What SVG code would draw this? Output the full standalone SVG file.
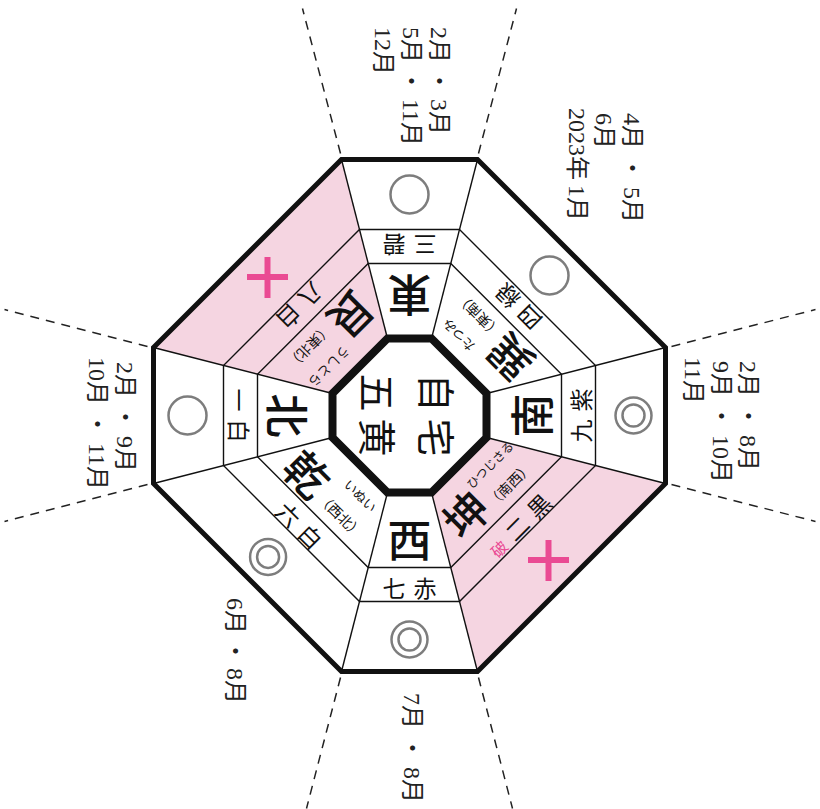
<svg xmlns="http://www.w3.org/2000/svg" width="820" height="809" viewBox="0 0 820 809">
<style>
.thin{fill:none;stroke:#111;stroke-width:1.4}
.outer{fill:none;stroke:#111;stroke-width:5;stroke-linejoin:miter}
.inner{fill:#fff;stroke:#111;stroke-width:8;stroke-linejoin:miter}
.pink{fill:#f5d5e1}
.dash{fill:none;stroke:#222;stroke-width:1.5;stroke-dasharray:9 7}
.dir{font-family:"Noto Sans CJK JP",sans-serif;font-size:44px;font-weight:500;fill:#111;text-anchor:middle;dominant-baseline:central}
.star{font-family:"Noto Sans CJK JP",sans-serif;font-size:23px;fill:#111;text-anchor:middle;dominant-baseline:central}
.yomi{font-family:"Noto Sans CJK JP",sans-serif;font-size:13px;fill:#111;text-anchor:middle;dominant-baseline:central}
.par{font-family:"Noto Sans CJK JP",sans-serif;font-size:14px;fill:#111;text-anchor:middle;dominant-baseline:central}
.ctr{font-family:"Noto Sans CJK JP",sans-serif;font-size:38px;fill:#111;text-anchor:middle;dominant-baseline:central}
.mon{font-family:"Liberation Serif","Noto Sans CJK JP",serif;font-size:24px;fill:#222;dominant-baseline:central}
.sym{fill:none;stroke:#7d7d7d;stroke-width:2.5}
.cross{stroke:#ea4a93;stroke-width:6}
.ha{font-family:"Noto Sans CJK JP",sans-serif;font-size:16px;fill:#ea4a93;text-anchor:middle;dominant-baseline:central}
</style>

<g id="chart" transform="translate(409.5,415.5)">
  <polygon class="pink" points="-77,-22 -256,-68 -68,-256 -22,-77"/>
  <polygon class="pink" points="77,22 256,68 68,256 22,77"/>
  <g id="connectors">
    <line class="thin" x1="22" y1="-77" x2="68" y2="-256"/>
    <line class="thin" x1="77" y1="-22" x2="256" y2="-68"/>
    <line class="thin" x1="77" y1="22" x2="256" y2="68"/>
    <line class="thin" x1="22" y1="77" x2="68" y2="256"/>
    <line class="thin" x1="-22" y1="77" x2="-68" y2="256"/>
    <line class="thin" x1="-77" y1="22" x2="-256" y2="68"/>
    <line class="thin" x1="-77" y1="-22" x2="-256" y2="-68"/>
    <line class="thin" x1="-22" y1="-77" x2="-68" y2="-256"/>
    <polygon class="thin" points="41.3,-152 152,-41.3 152,41.3 41.3,152 -41.3,152 -152,41.3 -152,-41.3 -41.3,-152"/>
    <polygon class="thin" points="50,-186 186,-50 186,50 50,186 -50,186 -186,50 -186,-50 -50,-186"/>
    <line class="dash" x1="-69" y1="-262" x2="-107" y2="-407"/>
    <line class="dash" x1="69" y1="-262" x2="107" y2="-407"/>
    <line class="dash" x1="262" y1="-69" x2="406" y2="-106"/>
    <line class="dash" x1="262" y1="69" x2="406" y2="106"/>
    <line class="dash" x1="69" y1="262" x2="103" y2="393"/>
    <line class="dash" x1="-69" y1="262" x2="-103" y2="393"/>
    <line class="dash" x1="-262" y1="69" x2="-405" y2="106"/>
    <line class="dash" x1="-262" y1="-69" x2="-405" y2="-106"/>
  </g>
  <polygon class="outer" points="68,-256 256,-68 256,68 68,256 -68,256 -256,68 -256,-68 -68,-256"/>
  <g id="center">
    <polygon class="inner" points="22,-77 77,-22 77,22 22,77 -22,77 -77,22 -77,-22 -22,-77"/>
    <g transform="rotate(90)">
      <text class="ctr" x="-23" y="-29">自</text>
      <text class="ctr" x="22" y="-29">宅</text>
      <text class="ctr" x="-23" y="30">五</text>
      <text class="ctr" x="22" y="30">黄</text>
    </g>
  </g>
</g>

<g id="east" transform="translate(409.5,415.5) rotate(180)">
  <text class="dir" x="0" y="119">東</text>
  <text class="star" x="0" y="170">三<tspan dx="8">碧</tspan></text>
  <circle class="sym" cx="0" cy="221" r="19"/>
</g>
<g id="south" transform="translate(409.5,415.5) rotate(-90)">
  <text class="dir" x="0" y="120">南</text>
  <text class="star" x="0" y="170">九<tspan dx="8">紫</tspan></text>
  <circle class="sym" cx="0" cy="224" r="18"/>
  <circle class="sym" cx="0" cy="224" r="11"/>
</g>
<g id="west" transform="translate(409.5,415.5)">
  <text class="dir" x="0" y="122">西</text>
  <text class="star" x="0" y="171">七<tspan dx="8">赤</tspan></text>
  <circle class="sym" cx="0" cy="224" r="18"/>
  <circle class="sym" cx="0" cy="224" r="11"/>
</g>
<g id="north" transform="translate(409.5,415.5) rotate(90)">
  <text class="dir" x="0" y="121">北</text>
  <text class="star" x="0" y="170">一<tspan dx="8">白</tspan></text>
  <circle class="sym" cx="0" cy="222" r="19"/>
</g>
<g id="southeast" transform="translate(409.5,415.5) rotate(225)">
  <text class="dir" x="-30" y="110">巽</text>
  <text class="yomi" x="22" y="91">たつみ</text>
  <text class="par" x="22" y="119">（東南）</text>
  <text class="star" x="0" y="153">四<tspan dx="8">緑</tspan></text>
  <circle class="sym" cx="0" cy="198" r="19"/>
</g>
<g id="southwest" transform="translate(409.5,415.5) rotate(-45)">
  <text class="dir" x="-30" y="108">坤</text>
  <text class="yomi" x="22" y="91" style="font-size:12px">ひつじさる</text>
  <text class="par" x="22" y="119">（南西）</text>
  <text class="ha" x="-31" y="157">破</text>
  <text class="star" x="12" y="155">二<tspan dx="8">黒</tspan></text>
</g>
<g id="northwest" transform="translate(409.5,415.5) rotate(45)">
  <text class="dir" x="-31" y="112">乾</text>
  <text class="yomi" x="22" y="91">いぬい</text>
  <text class="par" x="22" y="119">（西北）</text>
  <text class="star" x="0" y="155">六<tspan dx="8">白</tspan></text>
  <circle class="sym" cx="0" cy="200" r="18"/>
  <circle class="sym" cx="0" cy="200" r="11"/>
</g>
<g id="northeast" transform="translate(409.5,415.5) rotate(135)">
  <text class="dir" x="-30" y="110">艮</text>
  <text class="yomi" x="22" y="91">うしとら</text>
  <text class="par" x="22" y="119">（東北）</text>
  <text class="star" x="0" y="154">八<tspan dx="8">白</tspan></text>
</g>
<g id="crosses">
  <line class="cross" x1="247" y1="277" x2="288" y2="277"/>
  <line class="cross" x1="267.5" y1="257" x2="267.5" y2="298"/>
  <line class="cross" x1="528" y1="560" x2="569" y2="560"/>
  <line class="cross" x1="548.5" y1="540" x2="548.5" y2="581"/>
</g>

<g id="months">
  <text class="mon" transform="translate(439,27) rotate(90)">2月<tspan dx="6">・</tspan><tspan dx="6">3月</tspan></text>
  <text class="mon" transform="translate(411,27) rotate(90)">5月<tspan dx="6">・</tspan><tspan dx="6">11月</tspan></text>
  <text class="mon" transform="translate(383,27) rotate(90)">12月</text>
  <text class="mon" transform="translate(632,113) rotate(90)">4月<tspan dx="7">・</tspan><tspan dx="7">5月</tspan></text>
  <text class="mon" transform="translate(604,113) rotate(90)">6月</text>
  <text class="mon" transform="translate(577,108) rotate(90)">2023年<tspan dx="5">1月</tspan></text>
  <text class="mon" transform="translate(748,361) rotate(90)">2月<tspan dx="7">・</tspan><tspan dx="7">8月</tspan></text>
  <text class="mon" transform="translate(721,361) rotate(90)">9月<tspan dx="7">・</tspan><tspan dx="7">10月</tspan></text>
  <text class="mon" transform="translate(693,357) rotate(90)">11月</text>
  <text class="mon" transform="translate(125,362) rotate(90)">2月<tspan dx="7">・</tspan><tspan dx="7">9月</tspan></text>
  <text class="mon" transform="translate(97,357) rotate(90)">10月<tspan dx="7">・</tspan><tspan dx="7">11月</tspan></text>
  <text class="mon" transform="translate(412,693) rotate(90)">7月<tspan dx="7">・</tspan><tspan dx="7">8月</tspan></text>
  <text class="mon" transform="translate(235,598) rotate(90)">6月<tspan dx="5">・</tspan><tspan dx="5">8月</tspan></text>
</g>
</svg>
